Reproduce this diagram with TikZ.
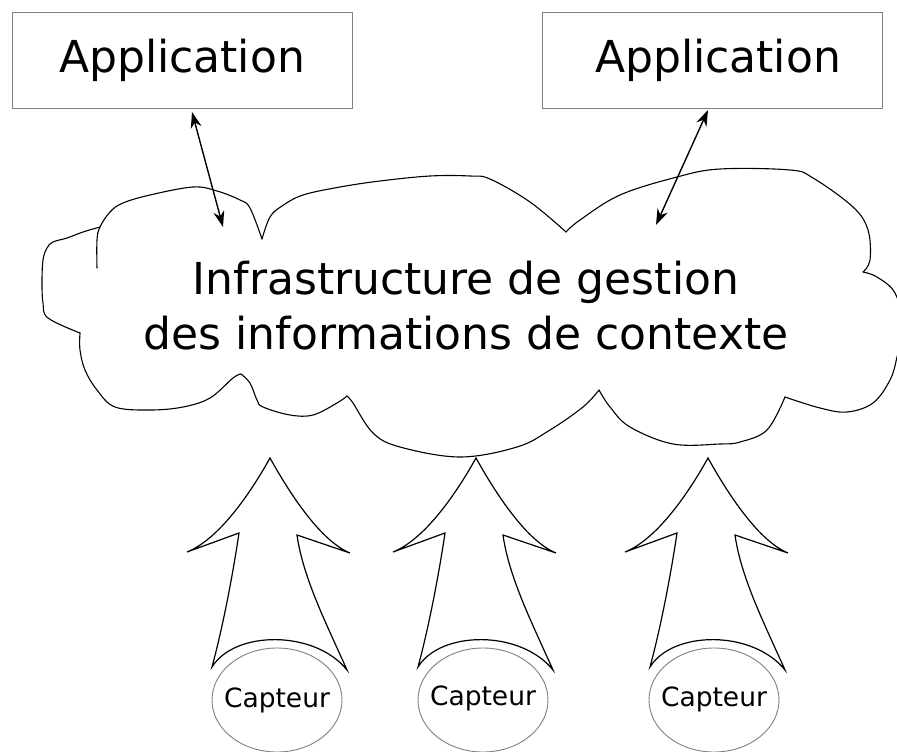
\documentclass[tikz,border=0pt]{standalone}
\usepackage{fontspec}
\setmainfont{DejaVu Sans}
\usetikzlibrary{arrows.meta}
\tikzset{
  appbox/.style={draw=gray, line width=1pt, minimum width=340pt, minimum height=95pt,
    inner sep=0pt, font=\fontsize{44}{53}\selectfont},
  cloudline/.style={line width=1.1pt, line join=round, line cap=round},
  bigtext/.style={align=center, inner sep=0pt, font=\fontsize{44}{55}\selectfont},
  sensortext/.style={inner sep=0pt, font=\fontsize{26.5}{30}\selectfont},
  sensorring/.style={draw=gray, line width=0.9pt},
  blockarrow/.style={draw=black, fill=white, line width=1.2pt, line join=miter},
  link/.style={line width=1.4pt, {Stealth[length=16pt,width=11pt]}-{Stealth[length=16pt,width=11pt]}},
}
\begin{document}
\begin{tikzpicture}[x=1pt,y=-1pt]
\clip (0,0) rectangle (897,752);
\fill[white] (0,0) rectangle (897,752);

% application boxes
\node[appbox] (app1) at (182,60.5) {Application};
\node[appbox] (app2) at (712,60.5) {\hspace*{12pt}Application};

% cloud outline
\draw[cloudline] plot[smooth, tension=0.6] coordinates {(97,268) (97,240) (100,227) (110,212) (123,203) (150,195) (193,187) (217,191) (240,200) (250,208) (262,239)};
\draw[cloudline] plot[smooth, tension=0.6] coordinates {(262,239) (270,217) (282,206) (303,195) (340,187) (380,181) (430,176) (470,176) (490,179) (530,202) (566,232)};
\draw[cloudline] plot[smooth, tension=0.6] coordinates {(566,232) (580,220) (620,195) (677,177) (720,169) (790,170) (813,178) (853,207) (868,230) (870,260) (863,272)};
\draw[cloudline] plot[smooth, tension=0.6] coordinates {(863,272) (877,277) (895,293) (903,325) (897,357) (890,380) (873,403) (847,412) (820,408) (785,397)};
\draw[cloudline] plot[smooth, tension=0.6] coordinates {(785,397) (767,430) (740,442) (720,444) (673,444) (630,427) (610,407) (599,390)};
\draw[cloudline] plot[smooth, tension=0.6] coordinates {(599,390) (583,407) (550,430) (517,447) (460,457) (400,447) (373,433) (353,403) (347,396)};
\draw[cloudline] plot[smooth, tension=0.6] coordinates {(347,396) (337,403) (313,415) (290,415) (263,407) (257,400) (250,383) (241,374)};
\draw[cloudline] plot[smooth, tension=0.6] coordinates {(241,374) (233,378) (210,398) (183,407) (150,410) (115,407) (97,390) (85,370) (80,350) (80,333)};
\draw[cloudline] plot[smooth, tension=0.6] coordinates {(80,333) (48,318) (43,303) (42,283) (43,260) (47,248) (53,242) (67,238) (83,232) (100,227)};

\node[bigtext] (infra) at (466,306) {Infrastructure de gestion\\des informations de contexte};

% links between applications and cloud
\coordinate (p1) at (192,112);
\coordinate (c1) at (223,227);
\coordinate (p2) at (708,110);
\coordinate (c2) at (656,225);
\draw[link] (p1) -- (c1);
\draw[link] (p2) -- (c2);

% block arrows
\foreach \dx in {0,206,438} {
  \begin{scope}[xshift=\dx pt]
  \draw[blockarrow] (270,458) .. controls (255,485) and (222,538) .. (187,552)
    -- (239,533) .. controls (232,580) and (222,630) .. (212,667)
    .. controls (235,630) and (315,630) .. (347,670)
    .. controls (327,625) and (303,578) .. (297,535)
    -- (350,553) .. controls (318,540) and (285,485) .. (270,458) -- cycle;
  \end{scope}
}

% sensors
\node[sensortext] (s1) at (277,700) {Capteur};
\node[sensortext] (s2) at (483,698) {Capteur};
\node[sensortext] (s3) at (714,699) {Capteur};
\draw[sensorring] (277,700) ellipse [x radius=65pt, y radius=52pt];
\draw[sensorring] (483,700) ellipse [x radius=65pt, y radius=52pt];
\draw[sensorring] (714,700) ellipse [x radius=65pt, y radius=52pt];
\end{tikzpicture}
\end{document}
